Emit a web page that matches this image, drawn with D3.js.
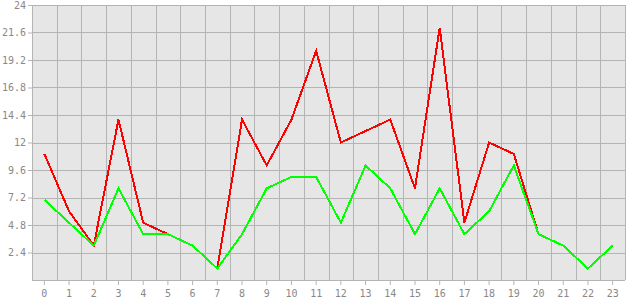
<!DOCTYPE html>
<html>
<head>
<meta charset="utf-8">
<script src="https://cdn.jsdelivr.net/npm/d3@7"></script>
<style>
  body { margin: 0; background: #ffffff; }
  text { font-family: "DejaVu Sans Mono", monospace; font-size: 10px; fill: #888888; }
</style>
</head>
<body>
<div id="CHARTviz"></div>
<script>
var categories = d3.range(0, 24).map(String);
var redValues = [11, 6, 3, 14, 5, 4, null, 1, 14, 10, 14, 20, 12, 13, 14, 8, 22, 5, 12, 11, 4, null, null, null];
var greenValues = [7, 5, 3, 8, 4, 4, 3, 1, 4, 8, 9, 9, 5, 10, 8, 4, 8, 4, 6, 10, 4, 3, 1, 3];
var yTicks = [2.4, 4.8, 7.2, 9.6, 12, 14.4, 16.8, 19.2, 21.6, 24];

var Chart_margin = {top: 5, right: 5, bottom: 20, left: 32};
var Chart_width = 630 - Chart_margin.left - Chart_margin.right;
var Chart_height = 300 - Chart_margin.top - Chart_margin.bottom;

var svg = d3.select("#CHARTviz")
  .append("svg")
  .attr("width", 630)
  .attr("height", 300)
  .append("g")
  .attr("transform", "translate(" + Chart_margin.left + "," + Chart_margin.top + ")")

// band scale: grid lines on band edges, points on band centers
var x = d3.scaleBand()
  .domain(categories)
  .range([0, Chart_width])
  .padding(0)

var y = d3.scaleLinear()
  .domain([0, 24])
  .range([Chart_height, 0])

svg.append("rect")
  .attr("width", Chart_width)
  .attr("height", Chart_height)
  .style("fill", "#e6e6e6")

// vertical grid
svg.append("g")
  .selectAll("line")
  .data(categories.concat(["end"]))
  .enter()
  .append("line")
  .attr("x1", function(d, i){ return Math.round(i * x.bandwidth()) + 0.5 })
  .attr("x2", function(d, i){ return Math.round(i * x.bandwidth()) + 0.5 })
  .attr("y1", 0)
  .attr("y2", Chart_height)
  .attr("stroke", "#b4b4b4")

// horizontal grid
svg.append("g")
  .selectAll("line")
  .data([0].concat(yTicks))
  .enter()
  .append("line")
  .attr("x1", 0)
  .attr("x2", Chart_width)
  .attr("y1", function(d){ return Math.round(y(d)) + 0.5 })
  .attr("y2", function(d){ return Math.round(y(d)) + 0.5 })
  .attr("stroke", "#b4b4b4")

var yAxis = d3.axisLeft(y).tickValues(yTicks).tickSize(4).tickPadding(2).tickFormat(function(d){ return String(+d.toFixed(1)) })
var YAXIS = svg.append("g").call(yAxis)

var xAxis = d3.axisBottom(x).tickSize(5).tickPadding(5)
var XAXIS = svg.append("g")
  .attr("transform", "translate(0," + Chart_height + ")")
  .call(xAxis)

svg.selectAll(".domain").remove()
svg.selectAll(".tick line").attr("stroke", "#b4b4b4")
svg.selectAll(".tick text").attr("fill", "#888888").style("font-family", "DejaVu Sans Mono, monospace").style("font-size", "10px")

var line = d3.line()
  .defined(function(d){ return d != null })
  .x(function(d, i){ return x(categories[i]) + x.bandwidth() / 2 })
  .y(function(d){ return y(d) })

svg.append("path")
  .datum(redValues)
  .attr("d", line)
  .attr("fill", "none")
  .attr("stroke", "#ff0000")
  .attr("stroke-width", 2)
  .style("shape-rendering", "crispEdges")

svg.append("path")
  .datum(greenValues)
  .attr("d", line)
  .attr("fill", "none")
  .attr("stroke", "#00ff00")
  .attr("stroke-width", 2)
  .style("shape-rendering", "crispEdges")
</script>
</body>
</html>
